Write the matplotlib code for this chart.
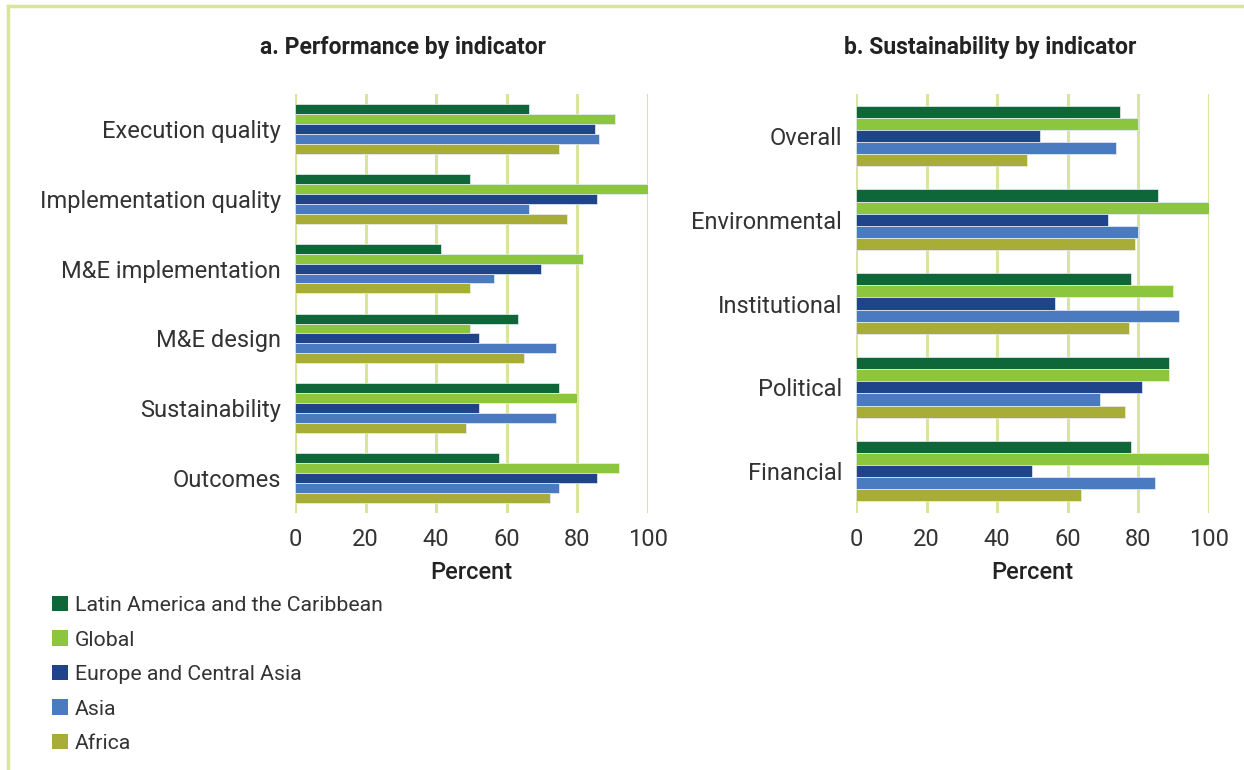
import matplotlib.pyplot as plt
import numpy as np
from matplotlib.patches import Patch
from matplotlib.lines import Line2D

plt.rcParams["font.family"] = ["Roboto", "DejaVu Sans"]

series = ["Latin America and the Caribbean", "Global", "Europe and Central Asia", "Asia", "Africa"]
colors = ["#0f6638", "#8cc63f", "#1f4489", "#4a7bc0", "#a8ad38"]

perf_labels = ["Execution quality", "Implementation quality", "M&E implementation",
               "M&E design", "Sustainability", "Outcomes"]
perf_lac = [66.4, 49.6, 41.4, 63.3, 74.8, 57.9]
perf_global = [90.6, 100, 81.7, 49.6, 79.9, 91.7]
perf_eca = [85.0, 85.6, 69.7, 52.2, 52.2, 85.6]
perf_asia = [86.2, 66.4, 56.3, 73.8, 73.8, 74.8]
perf_africa = [74.8, 77.0, 49.6, 64.9, 48.4, 72.2]

sust_labels = ["Overall", "Environmental", "Institutional", "Political", "Financial"]
sust_lac = [74.9, 85.5, 77.8, 88.7, 77.8]
sust_global = [79.9, 100, 89.9, 88.7, 100]
sust_eca = [52.2, 71.3, 56.3, 80.9, 49.8]
sust_asia = [73.7, 79.9, 91.6, 69.2, 84.6]
sust_africa = [48.3, 78.9, 77.4, 76.1, 63.6]

grid_col = "#d9e59a"
text_col = "#333333"


def panel(ax, labels, values, bar_h):
    y = np.arange(len(labels))
    for i, (vals, c) in enumerate(zip(values, colors)):
        ax.barh(y - 2 * bar_h + i * bar_h, vals, height=bar_h, color=c,
                edgecolor="#e8eef6", linewidth=0.5, zorder=3)
    ax.set_ylim(len(labels) - 0.5, -0.5)
    ax.set_xlim(0, 100)
    ax.set_xticks(range(0, 101, 20))
    ax.set_yticks(y)
    ax.set_yticklabels(labels)
    ax.grid(axis="x", color=grid_col, linewidth=2.2, zorder=0)
    ax.axvline(0, color=grid_col, linewidth=2.2, zorder=0)
    for s in ax.spines.values():
        s.set_visible(False)
    ax.tick_params(axis="x", length=0, labelsize=17, colors=text_col, pad=11)
    ax.tick_params(axis="y", length=0, labelsize=17, colors=text_col, pad=10)
    ax.set_xlabel("Percent", fontsize=17, color="#222222", fontweight="medium", labelpad=7)


fig = plt.figure(figsize=(12.44, 7.7), dpi=100)

ax1 = fig.add_axes([0.2371, 0.3338, 0.2838, 0.544])
panel(ax1, perf_labels, [perf_lac, perf_global, perf_eca, perf_asia, perf_africa], 0.142)

ax2 = fig.add_axes([0.6881, 0.3338, 0.2838, 0.544])
panel(ax2, sust_labels, [sust_lac, sust_global, sust_eca, sust_asia, sust_africa], 0.145)

fig.text(0.324, 0.9377, "a. Performance by indicator", ha="center", va="center",
         fontsize=16.5, fontweight="bold", color="#222222")
fig.text(0.796, 0.9377, "b. Sustainability by indicator", ha="center", va="center",
         fontsize=16.5, fontweight="bold", color="#222222")

handles = [Patch(facecolor=c, edgecolor="none") for c in colors]
fig.legend(handles, series, loc="upper left", bbox_to_anchor=(0.0266, 0.251),
           frameon=False, fontsize=15.3, handlelength=0.75, handleheight=0.75,
           handletextpad=0.33, labelspacing=0.72, labelcolor=text_col)

# frame lines
fig.add_artist(Line2D([0.0065, 1.0], [0.9925, 0.9925], color=grid_col, linewidth=2.5,
                      transform=fig.transFigure))
fig.add_artist(Line2D([0.0065, 0.0065], [0.0, 0.9925], color=grid_col, linewidth=2.5,
                      transform=fig.transFigure))

fig.savefig("out.png", dpi=100)
